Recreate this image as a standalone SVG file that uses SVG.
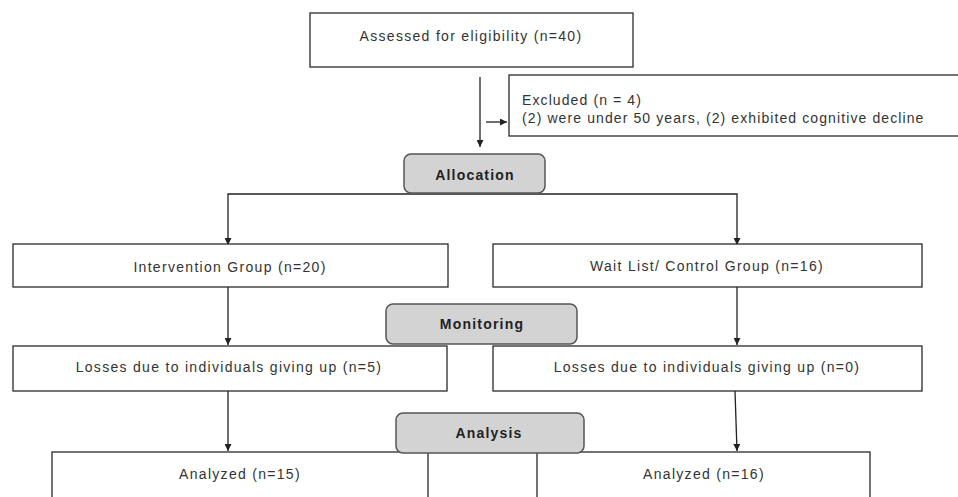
<svg xmlns="http://www.w3.org/2000/svg" width="958" height="497" viewBox="0 0 958 497">
<defs>
<marker id="ah" viewBox="0 0 10 10" refX="10" refY="5" markerWidth="7" markerHeight="7" orient="auto" markerUnits="userSpaceOnUse">
<path d="M0,0 L10,5 L0,10 z" fill="#222"/>
</marker>
<style>
.box{fill:#fff;stroke:#2a2a2a;stroke-width:1.3}
.phase{fill:#d3d3d3;stroke:#555;stroke-width:1.5}
.t{font-family:"Liberation Sans",Arial,sans-serif;font-size:14px;fill:#333;letter-spacing:1.3px}
.tc{text-anchor:middle}
.b{font-weight:bold;fill:#222;letter-spacing:1.2px}
.c{fill:none;stroke:#222;stroke-width:1.3}
</style>
</defs>
<rect width="958" height="497" fill="#fff"/>
<g id="connectors">
<line class="c" x1="480" y1="77" x2="480" y2="147" marker-end="url(#ah)"/>
<line class="c" x1="486" y1="122" x2="507" y2="122" marker-end="url(#ah)"/>
<polyline class="c" points="474,194 228,194 228,245" marker-end="url(#ah)"/>
<polyline class="c" points="474,194 737,194 737,245" marker-end="url(#ah)"/>
<line class="c" x1="228" y1="287" x2="228" y2="345" marker-end="url(#ah)"/>
<line class="c" x1="737" y1="287" x2="737" y2="345" marker-end="url(#ah)"/>
<line class="c" x1="228" y1="391" x2="228" y2="451" marker-end="url(#ah)"/>
<line class="c" x1="735" y1="391" x2="737" y2="451" marker-end="url(#ah)"/>
</g>
<g id="assessed">
<rect class="box" x="310" y="13" width="323" height="54"/>
<text class="t tc" x="471" y="41">Assessed for eligibility (n=40)</text>
</g>
<g id="excluded">
<rect class="box" x="509" y="75" width="460" height="61"/>
<text class="t" x="522" y="105" style="letter-spacing:1.1px">Excluded (n = 4)</text>
<text class="t" x="522" y="123" style="letter-spacing:1.1px">(2) were under 50 years, (2) exhibited cognitive decline</text>
</g>
<g id="allocation">
<rect class="phase" x="404" y="154" width="141" height="39" rx="7"/>
<text class="t tc b" x="475" y="180">Allocation</text>
</g>
<g id="intervention">
<rect class="box" x="13" y="244" width="435" height="43"/>
<text class="t tc" x="230" y="272">Intervention Group (n=20)</text>
</g>
<g id="control">
<rect class="box" x="493" y="244" width="429" height="43"/>
<text class="t tc" x="707" y="271">Wait List/ Control Group (n=16)</text>
</g>
<g id="monitoring">
<rect class="phase" x="386" y="304" width="191" height="40" rx="7"/>
<text class="t tc b" x="482" y="329">Monitoring</text>
</g>
<g id="losses-left">
<rect class="box" x="13" y="346" width="434" height="45"/>
<text class="t tc" x="229" y="372">Losses due to individuals giving up (n=5)</text>
</g>
<g id="losses-right">
<rect class="box" x="493" y="346" width="429" height="45"/>
<text class="t tc" x="707" y="372">Losses due to individuals giving up (n=0)</text>
</g>
<g id="analyzed-left">
<rect class="box" x="52" y="452" width="376" height="60"/>
<text class="t tc" x="240" y="479">Analyzed (n=15)</text>
</g>
<g id="analyzed-right">
<rect class="box" x="537" y="452" width="333" height="60"/>
<text class="t tc" x="704" y="479">Analyzed (n=16)</text>
</g>
<g id="analysis">
<rect class="phase" x="396" y="413" width="188" height="40" rx="7"/>
<text class="t tc b" x="489" y="438">Analysis</text>
</g>
</svg>
